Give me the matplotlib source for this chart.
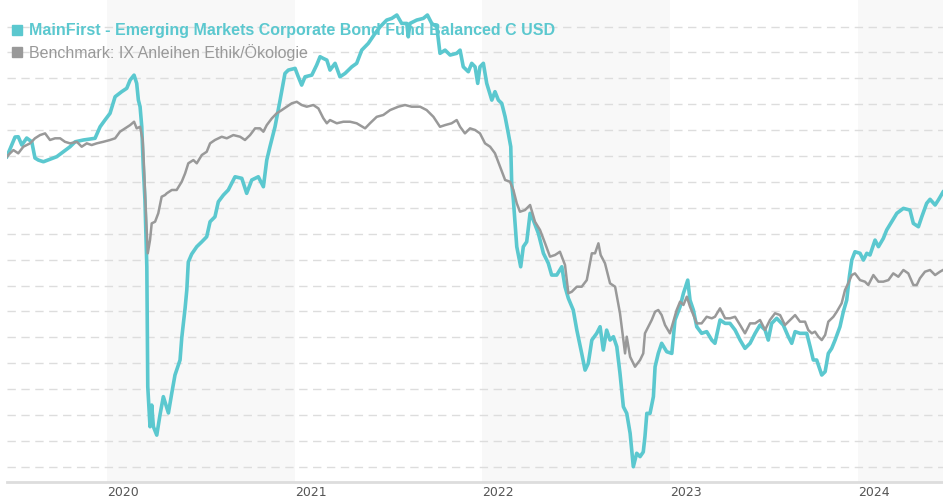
import matplotlib.pyplot as plt
from matplotlib.lines import Line2D

# Wertentwicklung in %, Zeit als Dezimaljahr
fund_name = 'MainFirst - Emerging Markets Corporate Bond Fund Balanced C USD'
bench_name = 'Benchmark: IX Anleihen Ethik/Ökologie'

fund_t = [2019.466, 2019.510, 2019.527, 2019.546, 2019.572, 2019.599, 2019.616, 2019.634, 2019.661, 2019.696,
          2019.732, 2019.767, 2019.803, 2019.830, 2019.874, 2019.936, 2019.963, 2019.989, 2020.016, 2020.043,
          2020.078, 2020.105, 2020.123, 2020.144, 2020.158, 2020.167, 2020.176, 2020.185, 2020.193, 2020.202,
          2020.212, 2020.215, 2020.217, 2020.229, 2020.238, 2020.247, 2020.265, 2020.282, 2020.300, 2020.327,
          2020.345, 2020.362, 2020.389, 2020.398, 2020.416, 2020.425, 2020.433, 2020.451, 2020.478, 2020.505,
          2020.531, 2020.549, 2020.575, 2020.593, 2020.620, 2020.646, 2020.682, 2020.718, 2020.744, 2020.771,
          2020.806, 2020.833, 2020.851, 2020.868, 2020.895, 2020.922, 2020.948, 2020.966, 2021.002, 2021.019,
          2021.037, 2021.055, 2021.091, 2021.117, 2021.135, 2021.152, 2021.171, 2021.188, 2021.215, 2021.241,
          2021.268, 2021.304, 2021.330, 2021.357, 2021.392, 2021.428, 2021.455, 2021.490, 2021.517, 2021.544,
          2021.570, 2021.597, 2021.605, 2021.614, 2021.650, 2021.685, 2021.707, 2021.730, 2021.757, 2021.774,
          2021.801, 2021.828, 2021.863, 2021.881, 2021.898, 2021.925, 2021.943, 2021.961, 2021.975, 2021.987,
          2022.005, 2022.023, 2022.050, 2022.067, 2022.085, 2022.103, 2022.121, 2022.138, 2022.151, 2022.156,
          2022.165, 2022.183, 2022.204, 2022.218, 2022.236, 2022.254, 2022.271, 2022.298, 2022.325, 2022.351,
          2022.369, 2022.396, 2022.423, 2022.440, 2022.458, 2022.484, 2022.503, 2022.529, 2022.547, 2022.564,
          2022.583, 2022.609, 2022.627, 2022.644, 2022.662, 2022.680, 2022.698, 2022.716, 2022.733, 2022.751,
          2022.769, 2022.787, 2022.804, 2022.822, 2022.840, 2022.857, 2022.866, 2022.876, 2022.893, 2022.911,
          2022.920, 2022.937, 2022.955, 2022.982, 2023.009, 2023.026, 2023.053, 2023.071, 2023.094, 2023.106,
          2023.124, 2023.142, 2023.168, 2023.195, 2023.222, 2023.239, 2023.266, 2023.293, 2023.319, 2023.346,
          2023.373, 2023.399, 2023.426, 2023.453, 2023.479, 2023.506, 2023.523, 2023.541, 2023.568, 2023.603,
          2023.630, 2023.648, 2023.666, 2023.692, 2023.728, 2023.746, 2023.763, 2023.781, 2023.808, 2023.826,
          2023.843, 2023.861, 2023.879, 2023.905, 2023.923, 2023.941, 2023.955, 2023.968, 2023.985, 2024.012,
          2024.030, 2024.048, 2024.065, 2024.092, 2024.110, 2024.136, 2024.154, 2024.181, 2024.208, 2024.243,
          2024.278, 2024.296, 2024.323, 2024.341, 2024.367, 2024.385, 2024.412, 2024.429, 2024.454]
fund_v = [-0.05, 1.47, 1.49, 0.85, 1.39, 1.10, -0.15, -0.31, -0.44, -0.25,
          -0.05, 0.33, 0.72, 1.10, 1.24, 1.37, 2.26, 2.78, 3.30, 4.58,
          4.97, 5.23, 5.87, 6.25, 5.61, 4.32, 3.81, 2.26, -0.83, -3.40,
          -8.55, -13.67, -17.81, -20.90, -19.23, -20.90, -21.55, -20.00, -18.58, -19.84,
          -18.30, -16.91, -15.75, -14.05, -11.73, -10.34, -8.18, -7.57, -7.00, -6.62,
          -6.23, -5.07, -4.69, -3.53, -3.01, -2.62, -1.60, -1.72, -2.88, -1.85,
          -1.60, -2.37, -0.31, 0.72, 2.26, 4.32, 6.38, 6.64, 6.77, 6.12,
          5.48, 6.12, 6.25, 7.03, 7.67, 7.54, 7.41, 6.64, 7.16, 6.12,
          6.38, 6.89, 7.16, 8.18, 8.70, 9.47, 9.98, 10.50, 10.63, 10.89,
          10.24, 10.24, 9.21, 10.24, 10.50, 10.63, 10.89, 10.24, 9.98, 7.93,
          8.18, 7.80, 7.93, 8.18, 6.89, 6.51, 7.16, 6.89, 5.61, 6.89,
          7.16, 5.61, 4.32, 4.97, 4.32, 4.07, 3.03, 1.75, 0.72, -2.11,
          -3.40, -7.00, -8.55, -7.00, -6.62, -4.42, -4.94, -5.97, -7.51, -8.28,
          -9.19, -9.19, -8.55, -10.09, -10.99, -11.89, -13.44, -15.24, -16.53, -16.01,
          -14.21, -13.69, -13.18, -14.98, -13.44, -14.21, -13.95, -14.72, -16.78, -19.36,
          -19.87, -21.41, -23.99, -22.95, -23.21, -22.85, -21.67, -19.87, -19.87, -18.58,
          -16.27, -15.24, -14.46, -15.11, -15.24, -12.66, -11.64, -10.60, -9.58, -11.12,
          -11.89, -13.18, -13.69, -13.56, -14.21, -14.46, -12.66, -12.92, -12.92, -13.43,
          -14.21, -14.85, -14.46, -13.69, -13.05, -13.43, -14.21, -12.92, -12.53, -13.05,
          -13.95, -14.46, -13.56, -13.69, -13.69, -14.72, -15.75, -15.75, -16.91, -16.65,
          -15.24, -14.85, -14.21, -13.18, -12.02, -11.12, -9.32, -8.03, -7.39, -7.51,
          -8.03, -7.51, -7.64, -6.49, -7.00, -6.36, -5.71, -5.07, -4.42, -4.04,
          -4.17, -5.20, -5.46, -4.69, -3.65, -3.34, -3.78, -3.40, -2.78]

bench_t = [2019.466, 2019.483, 2019.501, 2019.527, 2019.554, 2019.590, 2019.616, 2019.643, 2019.670, 2019.696,
           2019.723, 2019.750, 2019.776, 2019.803, 2019.839, 2019.865, 2019.892, 2019.918, 2019.945, 2019.980,
           2020.016, 2020.043, 2020.069, 2020.096, 2020.123, 2020.144, 2020.158, 2020.176, 2020.190, 2020.197,
           2020.204, 2020.212, 2020.217, 2020.229, 2020.238, 2020.256, 2020.273, 2020.291, 2020.309, 2020.318,
           2020.345, 2020.371, 2020.398, 2020.416, 2020.433, 2020.460, 2020.478, 2020.505, 2020.531, 2020.549,
           2020.575, 2020.611, 2020.638, 2020.673, 2020.709, 2020.735, 2020.762, 2020.789, 2020.815, 2020.833,
           2020.851, 2020.878, 2020.904, 2020.931, 2020.957, 2020.984, 2021.011, 2021.037, 2021.064, 2021.099,
           2021.126, 2021.144, 2021.152, 2021.171, 2021.188, 2021.224, 2021.259, 2021.295, 2021.330, 2021.375,
           2021.401, 2021.437, 2021.472, 2021.508, 2021.552, 2021.588, 2021.623, 2021.668, 2021.703, 2021.739,
           2021.774, 2021.801, 2021.836, 2021.863, 2021.881, 2021.907, 2021.934, 2021.961, 2021.987, 2022.014,
           2022.041, 2022.067, 2022.094, 2022.121, 2022.147, 2022.165, 2022.183, 2022.200, 2022.227, 2022.254,
           2022.280, 2022.307, 2022.334, 2022.360, 2022.387, 2022.413, 2022.440, 2022.458, 2022.476, 2022.503,
           2022.529, 2022.556, 2022.583, 2022.600, 2022.618, 2022.630, 2022.653, 2022.680, 2022.707, 2022.733,
           2022.751, 2022.760, 2022.769, 2022.787, 2022.813, 2022.840, 2022.857, 2022.866, 2022.884, 2022.902,
           2022.920, 2022.937, 2022.955, 2022.973, 2022.999, 2023.017, 2023.035, 2023.053, 2023.071, 2023.089,
           2023.106, 2023.124, 2023.142, 2023.168, 2023.195, 2023.222, 2023.239, 2023.266, 2023.293, 2023.319,
           2023.346, 2023.373, 2023.399, 2023.426, 2023.453, 2023.479, 2023.506, 2023.532, 2023.559, 2023.586,
           2023.612, 2023.639, 2023.666, 2023.692, 2023.719, 2023.736, 2023.755, 2023.772, 2023.790, 2023.808,
           2023.826, 2023.843, 2023.870, 2023.888, 2023.914, 2023.932, 2023.949, 2023.968, 2023.985, 2024.012,
           2024.038, 2024.056, 2024.083, 2024.110, 2024.136, 2024.163, 2024.189, 2024.216, 2024.243, 2024.269,
           2024.296, 2024.314, 2024.331, 2024.358, 2024.385, 2024.412, 2024.438, 2024.454]
bench_v = [-0.05, 0.21, 0.46, 0.21, 0.72, 0.98, 1.37, 1.62, 1.75, 1.24,
           1.37, 1.37, 1.10, 0.98, 1.10, 0.72, 0.98, 0.85, 0.98, 1.10,
           1.24, 1.37, 1.88, 2.14, 2.39, 2.65, 2.14, 2.26, 1.24, -0.83,
           -3.40, -5.97, -7.51, -6.49, -5.20, -5.07, -4.42, -3.14, -3.01, -2.88,
           -2.62, -2.62, -1.98, -1.34, -0.56, -0.31, -0.56, 0.08, 0.33, 0.98,
           1.24, 1.49, 1.37, 1.62, 1.49, 1.24, 1.62, 2.14, 2.14, 1.88,
           2.39, 2.91, 3.30, 3.55, 3.81, 4.07, 4.19, 3.94, 3.81, 3.94,
           3.68, 3.17, 2.93, 2.53, 2.78, 2.53, 2.65, 2.65, 2.53, 2.14,
           2.53, 3.03, 3.17, 3.55, 3.81, 3.94, 3.81, 3.81, 3.55, 3.03,
           2.26, 2.39, 2.53, 2.78, 2.26, 1.75, 2.14, 2.01, 1.75, 0.98,
           0.72, 0.21, -0.83, -1.85, -1.98, -2.62, -3.65, -4.30, -4.17, -3.78,
           -5.07, -5.71, -6.74, -7.77, -7.64, -7.39, -8.41, -10.60, -10.48, -10.09,
           -10.09, -9.58, -7.51, -7.51, -6.74, -7.64, -8.28, -9.83, -10.09, -12.14,
           -14.21, -15.24, -13.95, -15.50, -16.27, -15.75, -15.24, -13.69, -13.18, -12.66,
           -12.02, -11.89, -12.28, -13.05, -13.69, -12.79, -11.89, -11.25, -11.50, -10.86,
           -11.63, -12.28, -12.92, -12.92, -12.41, -12.53, -12.41, -11.76, -12.53, -12.53,
           -12.41, -13.05, -13.69, -12.92, -12.92, -12.66, -13.43, -12.66, -12.14, -12.28,
           -13.05, -12.66, -12.28, -12.79, -12.79, -13.43, -13.69, -13.56, -13.95, -14.21,
           -13.82, -12.79, -12.41, -12.02, -11.37, -10.34, -9.83, -9.19, -9.06, -9.58,
           -9.70, -9.96, -9.19, -9.70, -9.70, -9.58, -9.06, -9.32, -8.80, -9.06,
           -9.96, -9.96, -9.44, -8.93, -8.80, -9.19, -8.93, -8.80]

years = [2020, 2021, 2022, 2023, 2024]
shaded_years = [2020, 2022, 2024]
grid_levels = list(range(-24, 11, 2))

fund_color = '#5bc8cf'
bench_color = '#999999'

fig = plt.figure(figsize=(9.43, 5.0), dpi=100)
ax = fig.add_axes([7 / 943, 18 / 500, 936 / 943, 482 / 500])
ax.set_xlim(2019.467, 2024.454)
ax.set_ylim(-25.17, 12.05)

# Jahresbänder
for y in shaded_years:
    ax.axvspan(y, y + 1, color='#f8f8f8', zorder=0, lw=0)

# gestrichelte Hilfslinien
ax.set_yticks(grid_levels)
ax.yaxis.grid(True, color='#dddddd', linestyle=(0, (6, 4)), linewidth=1.0)
ax.set_axisbelow(True)
ax.tick_params(axis='y', length=0, labelleft=False)

ax.plot(fund_t, fund_v, color=fund_color, lw=2.6, zorder=3, solid_joinstyle='round')
ax.plot(bench_t, bench_v, color=bench_color, lw=1.8, zorder=4, solid_joinstyle='round')

ax.set_xticks(years)
ax.set_xticklabels([str(y) for y in years], fontsize=9, color='#555555',
                   family=['Liberation Sans Narrow', 'DejaVu Sans'])
for lbl in ax.get_xticklabels():
    lbl.set_horizontalalignment('left')
ax.tick_params(axis='x', length=0, pad=3)

for side in ['top', 'right', 'left']:
    ax.spines[side].set_visible(False)
ax.spines['bottom'].set_color('#dddddd')
ax.spines['bottom'].set_linewidth(2)

handles = [Line2D([], [], marker='s', color=fund_color, linestyle='None', markersize=7),
           Line2D([], [], marker='s', color=bench_color, linestyle='None', markersize=7)]
leg = ax.legend(handles, [fund_name, bench_name], loc='upper left', bbox_to_anchor=(0.0, 0.965),
                frameon=False, handlelength=0.5, handletextpad=0.45, labelspacing=0.35,
                borderaxespad=0.0, prop={'family': 'Liberation Sans', 'size': 11.5})
texts = leg.get_texts()
texts[0].set_color(fund_color)
texts[0].set_fontweight('bold')
texts[1].set_color(bench_color)
leg.set_zorder(2)

plt.savefig('out.png', dpi=100)
